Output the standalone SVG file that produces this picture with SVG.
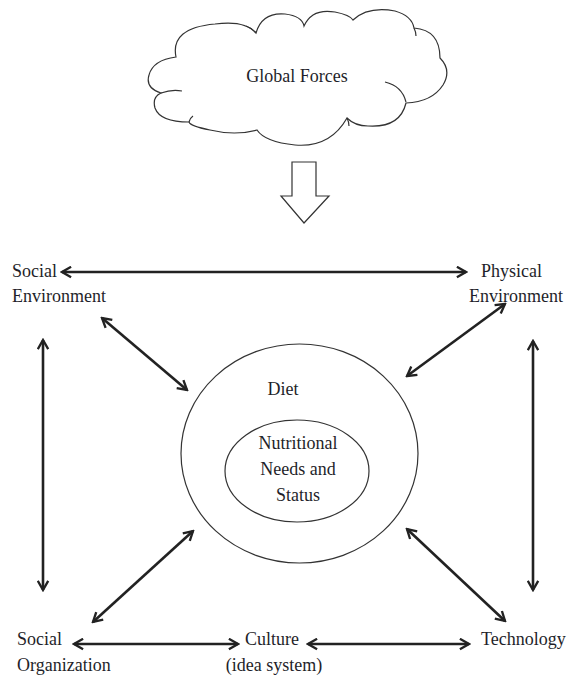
<svg xmlns="http://www.w3.org/2000/svg" width="569" height="677" viewBox="0 0 569 677">
<defs>
<style>
text{font-family:"Liberation Serif","Times New Roman",serif;font-size:18px;fill:#1f1f2a}
.shape{fill:none;stroke:#333;stroke-width:1.2}
.conn{fill:none;stroke:#222;stroke-width:2.6;marker-start:url(#ah);marker-end:url(#ah)}
.mid{text-anchor:middle}
</style>
<marker id="ah" viewBox="0 0 10 10" refX="8.5" refY="5" markerUnits="userSpaceOnUse" markerWidth="13" markerHeight="13" orient="auto-start-reverse">
<path d="M1.5,1 L8.5,5 L1.5,9" fill="none" stroke="#222" stroke-width="1.8" stroke-linejoin="miter"/>
</marker>
</defs>
<rect width="569" height="677" fill="#fff"/>
<g id="global-forces">
<path class="shape" d="M176,57 Q170,28 215,24 Q245,20 256,33 Q262,12 285,14 Q302,16 304,26 Q312,8 335,12 Q350,15 353,20 Q368,6 395,11 Q412,16 414,28 Q440,30 440,58 Q452,70 443,85 Q432,102 406,103 Q400,128 368,126 Q355,126 347,118 Q330,148 295,145 Q265,142 257,130 Q235,136 210,130 Q190,126 189,122 Q160,122 155,108 Q152,97 161,93 Q145,88 149,75 Q153,60 176,57 Z"/>
<path class="shape" d="M161,93 Q172,89 182,91 M246,26 Q252,28 256,33 M414,28 Q416,32 416,36 M385,82 Q402,86 406,102 M347,118 Q349,122 349,126 M189,122 Q190,118 193,116"/>
<text class="mid" x="297" y="82">Global Forces</text>
</g>
<g id="influence-arrow">
<polygon class="shape" points="292,162 316,162 316,196 329,196 304,223 281,196 292,196"/>
</g>
<g id="social-environment">
<text x="12" y="277">Social</text>
<text x="12" y="302">Environment</text>
</g>
<g id="physical-environment">
<text x="481" y="277">Physical</text>
<text x="563" y="302" text-anchor="end">Environment</text>
</g>
<g id="diet">
<ellipse class="shape" cx="299.5" cy="453.5" rx="118.5" ry="109.5"/>
<text class="mid" x="283" y="395">Diet</text>
</g>
<g id="nutritional-needs">
<ellipse class="shape" cx="297" cy="471" rx="72" ry="51"/>
<text class="mid" x="298" y="449">Nutritional</text>
<text class="mid" x="298" y="475">Needs and</text>
<text class="mid" x="298" y="501">Status</text>
</g>
<g id="social-organization">
<text x="17" y="645">Social</text>
<text x="17" y="671">Organization</text>
</g>
<g id="culture">
<text x="245" y="645">Culture</text>
<text class="mid" x="274" y="671">(idea system)</text>
</g>
<g id="technology">
<text x="481" y="645">Technology</text>
</g>
<g id="connectors">
<line class="conn" x1="62" y1="272" x2="466" y2="272"/>
<line class="conn" x1="102" y1="318" x2="187" y2="390"/>
<line class="conn" x1="505" y1="304" x2="407" y2="376"/>
<line class="conn" x1="43" y1="340" x2="43" y2="590"/>
<line class="conn" x1="533" y1="341" x2="533" y2="590"/>
<line class="conn" x1="193" y1="531" x2="93" y2="622"/>
<line class="conn" x1="407" y1="529" x2="505" y2="621"/>
<line class="conn" x1="74" y1="644" x2="238" y2="644"/>
<line class="conn" x1="308" y1="644" x2="469" y2="644"/>
</g>
</svg>
